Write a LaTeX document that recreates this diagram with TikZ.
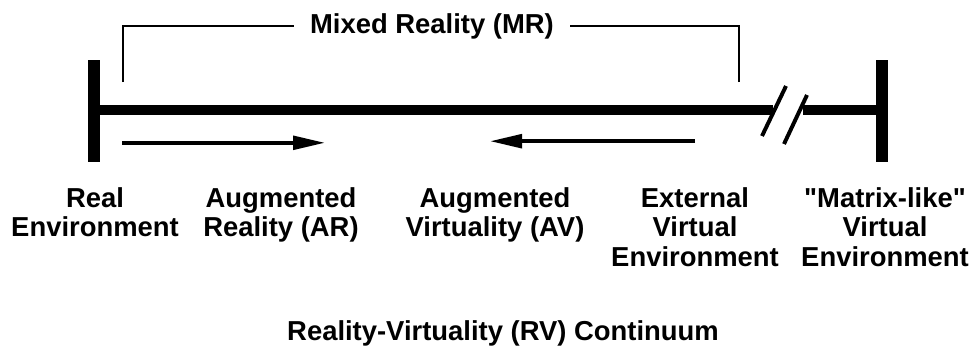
\documentclass[tikz,border=0pt]{standalone}
\usepackage{fontspec}
\setmainfont{Liberation Sans}
\usetikzlibrary{arrows.meta}

\begin{document}
\begin{tikzpicture}
\tikzstyle{end_bar}=[line width=8.5pt];
\tikzstyle{continuum}=[line width=7pt];
\tikzstyle{bracket}=[line width=1.4pt];
\tikzstyle{break_slash}=[line width=2.8pt];
\tikzstyle{direction}=[line width=2.6pt, -{Triangle[length=0.8cm,width=0.34cm]}];
\tikzstyle{env_label}=[align=center, font=\fontsize{19.5}{21}\selectfont\bfseries, inner sep=0];
\path[use as bounding box] (0,0) rectangle (24.4,8.85);
\coordinate (real_top) at (2.35,7.35);
\coordinate (real_bottom) at (2.35,4.8);
\coordinate (virtual_top) at (22.05,7.35);
\coordinate (virtual_bottom) at (22.05,4.8);
\coordinate (line_left) at (2.35,6.1);
\coordinate (break_left) at (19.325,6.1);
\coordinate (break_right) at (20.075,6.1);
\coordinate (line_right) at (22.05,6.1);
\coordinate (slash_1_a) at (19.05,5.45);
\coordinate (slash_1_b) at (19.65,6.7);
\coordinate (slash_2_a) at (19.6,5.25);
\coordinate (slash_2_b) at (20.175,6.475);
\coordinate (mr_left_foot) at (3.075,6.8);
\coordinate (mr_right_foot) at (18.475,6.8);
\coordinate (mr) at (10.8,8.2);
\coordinate (ar_start) at (3.05,5.28);
\coordinate (ar_end) at (8.125,5.28);
\coordinate (av_start) at (17.375,5.32);
\coordinate (av_end) at (12.25,5.32);
\coordinate (re) at (2.375,4.175);
\coordinate (ar) at (7.025,4.175);
\coordinate (av) at (12.375,4.175);
\coordinate (eve) at (17.375,4.175);
\coordinate (mve) at (22.125,4.175);
\coordinate (rv) at (12.575,0.33);
\node (mr_label) at (mr) [style=env_label, inner xsep=0.4cm] {Mixed Reality (MR)};
\node (re_label) at (re) [style=env_label, anchor=north] {Real\\Environment};
\node (ar_label) at (ar) [style=env_label, anchor=north] {Augmented\\Reality (AR)};
\node (av_label) at (av) [style=env_label, anchor=north] {Augmented\\Virtuality (AV)};
\node (eve_label) at (eve) [style=env_label, anchor=north] {External\\Virtual\\Environment};
\node (mve_label) at (mve) [style=env_label, anchor=north] {\textquotedbl Matrix-like\textquotedbl\\Virtual\\Environment};
\node (rv_label) at (rv) [style=env_label, anchor=base] {Reality-Virtuality (RV) Continuum};
\path (real_top) -- (real_bottom) [draw, style=end_bar];
\path (virtual_top) -- (virtual_bottom) [draw, style=end_bar];
\path (line_left) -- (break_left) [draw, style=continuum];
\path (break_right) -- (line_right) [draw, style=continuum];
\path (slash_1_a) -- (slash_1_b) [draw, style=break_slash];
\path (slash_2_a) -- (slash_2_b) [draw, style=break_slash];
\path (mr_left_foot) |- (mr_label.west) [draw, style=bracket];
\path (mr_right_foot) |- (mr_label.east) [draw, style=bracket];
\path (ar_start) -- (ar_end) [draw, style=direction];
\path (av_start) -- (av_end) [draw, style=direction];
\end{tikzpicture}
\end{document}
